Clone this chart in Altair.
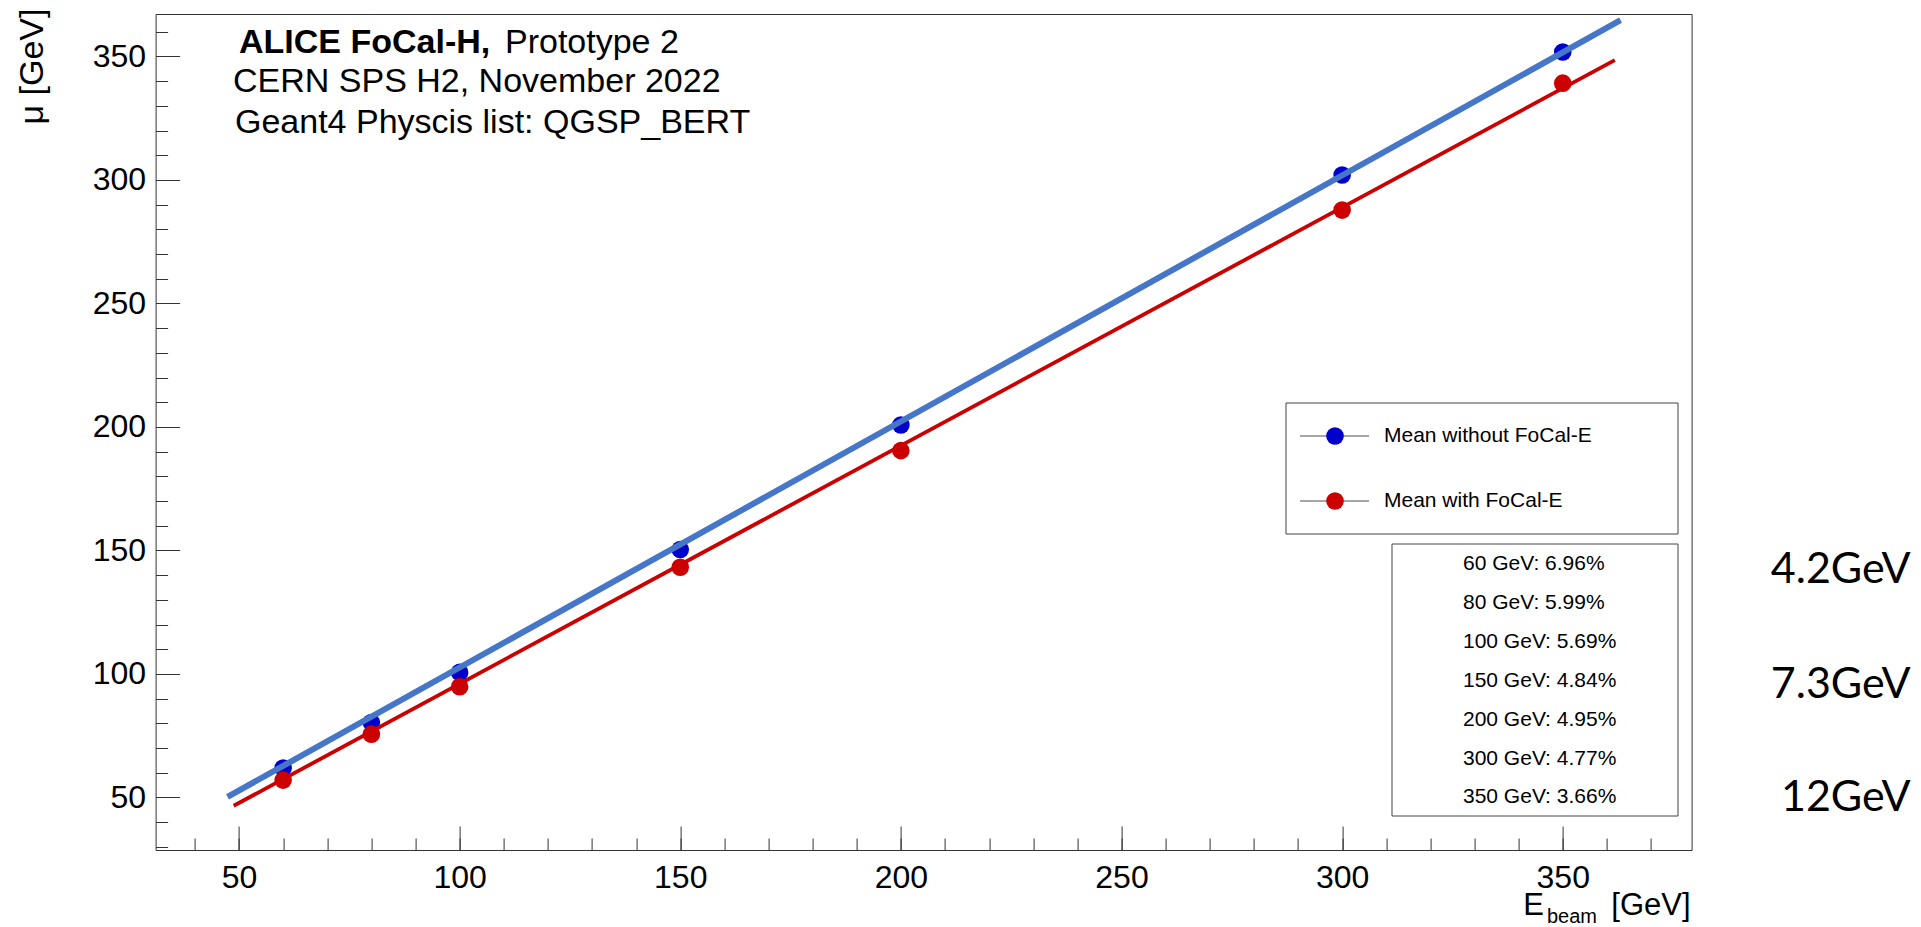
import altair as alt
import pandas as pd

# ---------------- data ----------------
energies = [60, 80, 100, 150, 200, 300, 350]
mean_without = [61.9, 80.3, 100.6, 150.4, 200.8, 302.0, 351.8]
mean_with = [57.0, 75.6, 94.8, 143.2, 190.4, 287.8, 339.2]

fit_without_x = [47.4, 363.1]
fit_without_y = [50.2, 364.7]
fit_with_x = [48.8, 361.8]
fit_with_y = [46.6, 348.5]

series_names = ["Mean without FoCal-E", "Mean with FoCal-E"]
resolution_energy = [60, 80, 100, 150, 200, 300, 350]
resolution_pct = ["6.96", "5.99", "5.69", "4.84", "4.95", "4.77", "3.66"]

side_labels = ["4.2GeV", "7.3GeV", "12GeV"]
side_label_y = [142.1, 95.5, 49.8]

header_bold = "ALICE FoCal-H,"
header_lines = ["Prototype 2", "CERN SPS H2, November 2022", "Geant4 Physcis list: QGSP_BERT"]

x_major = [50, 100, 150, 200, 250, 300, 350]
x_minor = list(range(40, 380, 10))
y_major = [50, 100, 150, 200, 250, 300, 350]
y_minor = list(range(30, 370, 10))

X_DOMAIN = [31.1, 379.2]
Y_DOMAIN = [28.7, 367.2]

# ---------------- styling ----------------
W, H = 1536, 836
FONT = "Liberation Sans"
BLUE_PT = "#0000cc"
RED = "#cc0000"
BLUE_LINE = "#4676c8"
TICK = "#333333"

xs = alt.Scale(domain=X_DOMAIN, nice=False, zero=False)
ys = alt.Scale(domain=Y_DOMAIN, nice=False, zero=False)

pts = pd.DataFrame({"E": energies, "without": mean_without, "with": mean_with})
fit_b = pd.DataFrame({"E": fit_without_x, "mu": fit_without_y})
fit_r = pd.DataFrame({"E": fit_with_x, "mu": fit_with_y})
one = pd.DataFrame({"a": [0]})

ax_x_labels = alt.Axis(orient="bottom", values=x_major, ticks=False, tickSize=0, domain=False,
                       grid=False, labelFontSize=32, labelFont=FONT, labelColor="black",
                       labelPadding=12, labelFlush=False, labelOverlap=False, title=None)
ax_y_labels = alt.Axis(orient="left", values=y_major, ticks=False, tickSize=0, domain=False,
                       grid=False, labelFontSize=32, labelFont=FONT, labelColor="black",
                       labelPadding=10, labelFlush=False, labelOverlap=False,
                       title="μ [GeV]", titleFont=FONT, titleFontSize=34, titleFontWeight="normal",
                       titleColor="black", titleAngle=270, titleAlign="right",
                       titleBaseline="middle", titleX=-123, titleY=-6)
ax_x_major = alt.Axis(orient="top", offset=-H, values=x_major, ticks=True, tickSize=24,
                      tickColor=TICK, tickWidth=1, labels=False, domain=False, grid=False, title=None)
ax_y_major = alt.Axis(orient="right", offset=-W, values=y_major, ticks=True, tickSize=24,
                      tickColor=TICK, tickWidth=1, labels=False, domain=False, grid=False, title=None)
ax_x_minor = alt.Axis(orient="top", offset=-H, values=x_minor, ticks=True, tickSize=12,
                      tickColor=TICK, tickWidth=1, labels=False, domain=False, grid=False, title=None)
ax_y_minor = alt.Axis(orient="right", offset=-W, values=y_minor, ticks=True, tickSize=12,
                      tickColor=TICK, tickWidth=1, labels=False, domain=False, grid=False, title=None)

PT_SIZE = 310

blue_pts = alt.Chart(pts).mark_circle(size=PT_SIZE, color=BLUE_PT, opacity=1).encode(
    x=alt.X("E:Q", scale=xs, axis=ax_x_major),
    y=alt.Y("without:Q", scale=ys, axis=ax_y_major),
)
blue_fit = alt.Chart(fit_b).mark_line(color=BLUE_LINE, strokeWidth=6, strokeCap="butt").encode(
    x=alt.X("E:Q", scale=xs, axis=ax_x_labels),
    y=alt.Y("mu:Q", scale=ys, axis=ax_y_labels),
)
red_pts = alt.Chart(pts).mark_circle(size=PT_SIZE, color=RED, opacity=1).encode(
    x=alt.X("E:Q", scale=xs, axis=ax_x_minor),
    y=alt.Y("with:Q", scale=ys, axis=ax_y_minor),
)
red_fit = alt.Chart(fit_r).mark_line(color=RED, strokeWidth=3.8, strokeCap="butt").encode(
    x=alt.X("E:Q", scale=xs, axis=None),
    y=alt.Y("mu:Q", scale=ys, axis=None),
)

layers = [blue_pts, blue_fit, red_pts, red_fit]

# header text (top left)
layers.append(alt.Chart(one).mark_text(align="left", baseline="middle", font=FONT, fontSize=34,
                                        fontWeight="bold", color="black").encode(
    x=alt.value(83.4), y=alt.value(29), text=alt.value(header_bold)))
header_pos = [(349.4, 29), (77.4, 68), (79.4, 108.5)]
for txt, (hx, hy) in zip(header_lines, header_pos):
    layers.append(alt.Chart(one).mark_text(align="left", baseline="middle", font=FONT, fontSize=34,
                                            color="black").encode(
        x=alt.value(hx), y=alt.value(hy), text=alt.value(txt)))

# legend 1
layers.append(alt.Chart(one).mark_rect(fill="white", stroke="#444444", strokeWidth=1).encode(
    x=alt.value(1130.4), x2=alt.value(1522.4), y=alt.value(389), y2=alt.value(520)))
for name, col, ly in zip(series_names, [BLUE_PT, RED], [422, 487]):
    layers.append(alt.Chart(one).mark_rule(color="#888888", strokeWidth=1.5).encode(
        x=alt.value(1144.4), x2=alt.value(1213.4), y=alt.value(ly)))
    layers.append(alt.Chart(one).mark_circle(size=PT_SIZE, color=col, opacity=1).encode(
        x=alt.value(1179.4), y=alt.value(ly)))
    layers.append(alt.Chart(one).mark_text(align="left", baseline="middle", font=FONT, fontSize=21,
                                            color="black").encode(
        x=alt.value(1228.4), y=alt.value(ly), text=alt.value(name)))

# legend 2 (resolution box)
layers.append(alt.Chart(one).mark_rect(fill="white", stroke="#444444", strokeWidth=1).encode(
    x=alt.value(1236.4), x2=alt.value(1522.4), y=alt.value(530), y2=alt.value(802)))
for i, (e, r) in enumerate(zip(resolution_energy, resolution_pct)):
    layers.append(alt.Chart(one).mark_text(align="left", baseline="middle", font=FONT, fontSize=21,
                                            color="black").encode(
        x=alt.value(1307.4), y=alt.value(550 + i * 38.9), text=alt.value(f"{e} GeV: {r}%")))

# side annotations
side = pd.DataFrame({"label": side_labels, "mu": side_label_y})
layers.append(alt.Chart(side).mark_text(align="right", baseline="middle", font="Lato", fontSize=43,
                                         color="black").encode(
    x=alt.value(1755), y=alt.Y("mu:Q", scale=ys, axis=None), text="label:N"))

# x axis title with subscript
layers.append(alt.Chart(one).mark_text(align="right", baseline="alphabetic", font=FONT, fontSize=31,
                                        color="black").encode(
    x=alt.value(1388.4), y=alt.value(901), text=alt.value("E")))
layers.append(alt.Chart(one).mark_text(align="left", baseline="alphabetic", font=FONT, fontSize=20,
                                        color="black").encode(
    x=alt.value(1391.4), y=alt.value(909), text=alt.value("beam")))
layers.append(alt.Chart(one).mark_text(align="right", baseline="alphabetic", font=FONT, fontSize=31,
                                        color="black").encode(
    x=alt.value(W - 1), y=alt.value(901), text=alt.value("[GeV]")))

chart = alt.layer(*layers).resolve_axis(x="independent", y="independent").properties(
    width=W, height=H,
    autosize=alt.AutoSizeParams(type="none"),
    padding={"left": 147.6, "top": 6, "right": 221.4, "bottom": 77},
    background="white",
).configure_view(stroke="#333333", strokeWidth=1)

chart.save("out.html", embed_options={"renderer": "svg", "actions": False})
